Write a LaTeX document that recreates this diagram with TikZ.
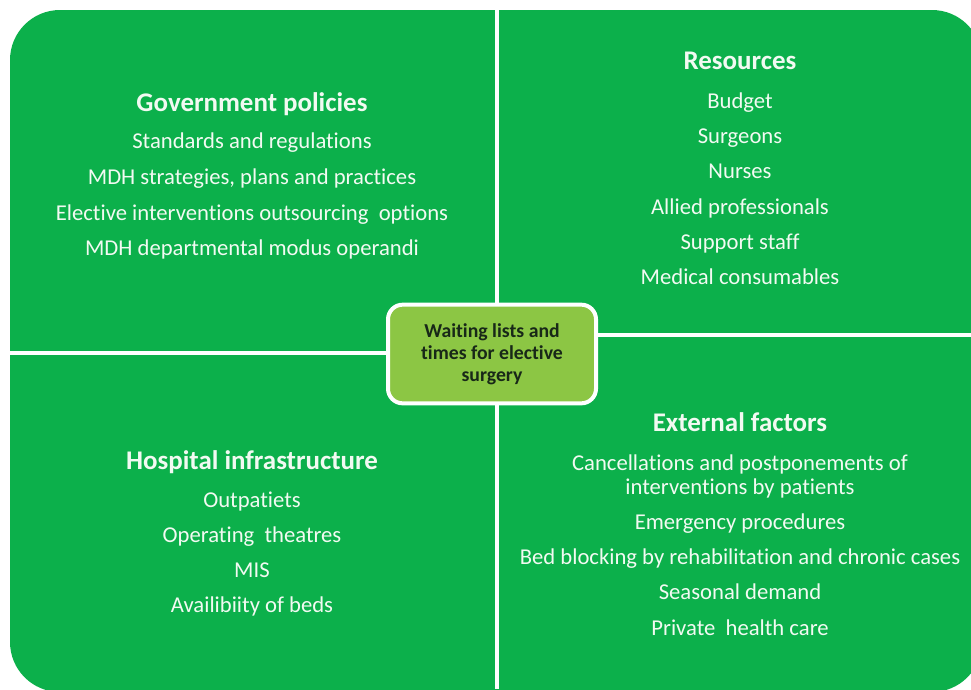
\documentclass[tikz,border=0pt]{standalone}
\usepackage{fontspec}
\setmainfont[Ligatures=NoCommon]{Carlito}
\definecolor{quadgreen}{RGB}{12,176,75}
\definecolor{hubgreen}{RGB}{140,198,68}
\definecolor{hubtext}{RGB}{24,40,24}
\definecolor{softwhite}{RGB}{242,250,242}
\begin{document}
\begin{tikzpicture}[x=0.75pt,y=-0.75pt,
  heading/.style={anchor=base, text=softwhite, inner sep=0pt,
    font=\fontsize{20.2}{24}\selectfont\bfseries},
  item/.style={anchor=base, text=softwhite, inner sep=0pt,
    font=\fontsize{17}{20}\selectfont},
  divider/.style={draw=white, line width=3pt},
  hub/.style={draw=white, line width=3pt, fill=hubgreen, rounded corners=11pt,
    minimum width=156pt, minimum height=74pt, align=center, text=hubtext,
    font=\fontsize{14.8}{16.5}\selectfont\bfseries}]
\useasboundingbox (0,0) rectangle (971,689);

% green panel with rounded outer corners
\begin{scope}
  \clip (0,0) rectangle (971,689);
  \fill[quadgreen, rounded corners=37.5pt] (10,10) rectangle (982,692);
\end{scope}

% white dividers between the four quadrants
\coordinate (vtop) at (496.5,0);
\coordinate (vbot) at (496.5,689);
\coordinate (hleft) at (0,352.5);
\coordinate (hlmid) at (496.5,352.5);
\coordinate (hrmid) at (496.5,335);
\coordinate (hright) at (971,335);
\draw[divider] (vtop) -- (vbot);
\draw[divider] (hleft) -- (hlmid);
\draw[divider] (hrmid) -- (hright);

% top left: government policies
\node[heading] (gov) at (252,111) {Government policies};
\node[item] (gov1) at (252,148) {Standards and regulations};
\node[item] (gov2) at (252,184) {MDH strategies, plans and practices};
\node[item] (gov3) at (252,220) {Elective interventions outsourcing\ \ options};
\node[item] (gov4) at (252,255) {MDH departmental modus operandi};

% top right: resources
\node[heading] (res) at (740,69) {Resources};
\node[item] (res1) at (740,108) {Budget};
\node[item] (res2) at (740,143) {Surgeons};
\node[item] (res3) at (740,178) {Nurses};
\node[item] (res4) at (740,214) {Allied professionals};
\node[item] (res5) at (740,249) {Support staff};
\node[item] (res6) at (740,284) {Medical consumables};

% bottom left: hospital infrastructure
\node[heading] (hosp) at (252,469) {Hospital infrastructure};
\node[item] (hosp1) at (252,507) {Outpatiets};
\node[item] (hosp2) at (252,542) {Operating\ \ theatres};
\node[item] (hosp3) at (252,577) {MIS};
\node[item] (hosp4) at (252,612) {Availibiity of beds};

% bottom right: external factors
\node[heading] (ext) at (740,431) {External factors};
\node[item] (ext1) at (740,470) {Cancellations and postponements of};
\node[item] (ext2) at (740,494) {interventions by patients};
\node[item] (ext3) at (740,529) {Emergency procedures};
\node[item] (ext4) at (740,564) {Bed blocking by rehabilitation and chronic cases};
\node[item] (ext5) at (740,599) {Seasonal demand};
\node[item] (ext6) at (740,635) {Private\ \ health care};

% central hub
\node[hub] (hub) at (492,354) {Waiting lists and\\times for elective\\surgery};
\end{tikzpicture}
\end{document}
